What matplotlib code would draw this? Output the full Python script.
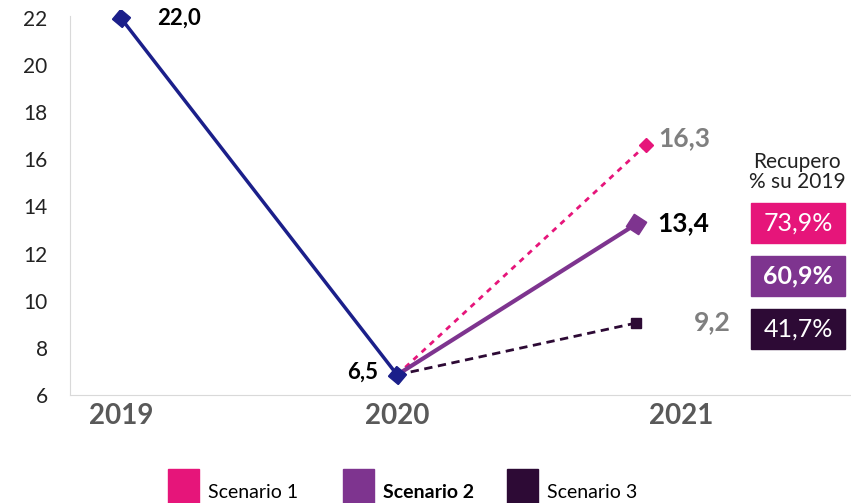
import matplotlib.pyplot as plt
from matplotlib.patches import Rectangle

plt.rcParams['font.family'] = ['Lato', 'DejaVu Sans']

# data (positions, labels as printed)
years = ['2019', '2020', '2021']
year_pos = [0, 1, 2.03]
hist_x = [0, 1]
hist_y = [22.0, 6.85]
scen1_x = [1, 1.9]
scen1 = [6.85, 16.6]
scen2_x = [1, 1.865]
scen2 = [6.85, 13.25]
scen3_x = [1, 1.865]
scen3 = [6.85, 9.05]
value_labels = ['22,0', '6,5', '16,3', '13,4', '9,2']
scen_names = ['Scenario 1', 'Scenario 2', 'Scenario 3']
recupero = ['73,9%', '60,9%', '41,7%']

navy = '#1b1f8a'
pink = '#e6157a'
purple = '#7e348f'
dark = '#2d0a35'
grey = '#595959'

fig = plt.figure(figsize=(8.51, 5.03), dpi=100)
ax = fig.add_axes([0.082, 0.215, 0.917, 0.765])

# scenarios first, history on top
ax.plot(scen1_x, scen1, color=pink, lw=2, ls=(0, (2, 2)), marker='D', ms=7, markevery=[1])
ax.plot(scen3_x, scen3, color=dark, lw=2, ls=(0, (3, 2)), marker='s', ms=7, markevery=[1])
ax.plot(scen2_x, scen2, color=purple, lw=3, marker=(4, 0, 12), ms=15, markevery=[1])
ax.plot(hist_x, hist_y, color=navy, lw=2.5, marker=(4, 0, 5), ms=13)

# value labels
ax.text(hist_x[0] + 0.13, hist_y[0], value_labels[0], fontsize=16, fontweight='bold', color='black', va='center', ha='left')
ax.text(hist_x[1] - 0.07, hist_y[1] + 0.1, value_labels[1], fontsize=16, fontweight='bold', color='black', va='center', ha='right')
ax.text(scen1_x[1] + 0.045, scen1[1] + 0.3, value_labels[2], fontsize=19, fontweight='bold', color='#7f7f7f', va='center', ha='left')
ax.text(scen2_x[1] + 0.075, scen2[1] + 0.05, value_labels[3], fontsize=19, fontweight='bold', color='black', va='center', ha='left')
ax.text(scen3_x[1] + 0.21, scen3[1] + 0.05, value_labels[4], fontsize=19, fontweight='bold', color='#7f7f7f', va='center', ha='left')

ax.set_xlim(-0.185, 2.64)
ax.set_ylim(6, 22.34)
ax.set_yticks(range(6, 23, 2))
ax.set_xticks(year_pos)
ax.set_xticklabels(years, fontsize=20, fontweight='bold', color=grey)
ax.tick_params(axis='y', length=0, pad=16, labelsize=15, labelcolor='#222222')
ax.tick_params(axis='x', length=0, pad=6)
for s in ['top', 'right']:
    ax.spines[s].set_visible(False)
ax.spines['left'].set_color('#d9d9d9')
ax.spines['bottom'].set_color('#d9d9d9')
ax.spines['left'].set_bounds(6, 22.1)

# recupero boxes on the right
fig.text(797 / 851, 1 - 172 / 503, 'Recupero\n% su 2019', fontsize=15, color='#222222',
         ha='center', va='center', linespacing=1.05)
box_cols = [pink, purple, dark]
box_top = [203, 256, 309]
for i in range(3):
    y0 = 1 - (box_top[i] + 40) / 503
    fig.add_artist(Rectangle((751 / 851, y0), 94 / 851, 40 / 503, transform=fig.transFigure,
                             color=box_cols[i]))
    fig.text(798 / 851, y0 + 20 / 503, recupero[i], fontsize=18, color='white', ha='center', va='center',
             fontweight='bold' if i == 1 else 'normal')

# legend at the bottom
leg_x = [168, 343, 507]
for i in range(3):
    fig.add_artist(Rectangle((leg_x[i] / 851, 0), 31 / 851, 34 / 503, transform=fig.transFigure,
                             color=box_cols[i]))
    fig.text((leg_x[i] + 40) / 851, 11 / 503, scen_names[i], fontsize=14, color='black', ha='left', va='center',
             fontweight='bold' if i == 1 else 'normal')

fig.savefig('out.png', dpi=100)
